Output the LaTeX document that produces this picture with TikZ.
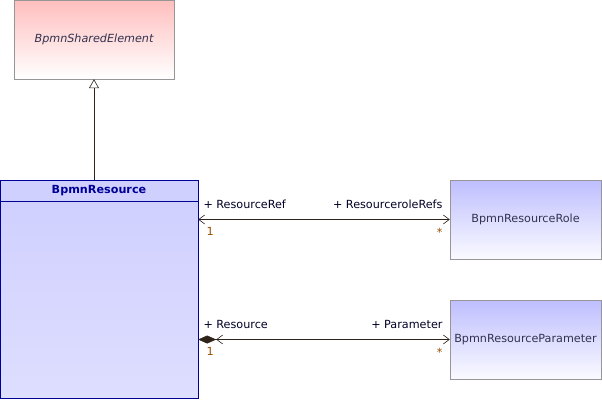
\documentclass[tikz,border=0pt]{standalone}
\usepackage{fontspec}
\setmainfont{DejaVu Sans}
\usetikzlibrary{arrows.meta,positioning}

\definecolor{umlgray}{RGB}{150,150,150}
\definecolor{umlnavy}{RGB}{0,0,150}
\definecolor{umlpink}{RGB}{255,190,190}
\definecolor{umlblue}{RGB}{190,190,255}
\definecolor{umlpale}{RGB}{250,250,255}
\definecolor{umlbody}{RGB}{208,208,255}
\definecolor{umlline}{RGB}{45,35,25}
\definecolor{umlmult}{RGB}{150,80,0}
\definecolor{umltext}{RGB}{50,50,80}

\begin{document}
\begin{tikzpicture}
[x=1pt,y=-1pt,font=\fontsize{11.2}{13}\selectfont,
  classDecorate/.style={shape=rectangle,draw=umlgray,minimum width=160pt,minimum height=79pt,
    inner sep=0pt,text=umltext,top color=umlblue,bottom color=umlpale},%
  lineDecorate/.style={draw=umlline,semithick},
  roleDecorate/.style={inner sep=1pt,text=black!85!blue},
  multDecorate/.style={inner sep=1pt,text=umlmult}]
\useasboundingbox (0,0) rectangle (602,400);
%% classes
\node (shared) at (94,39.5) [classDecorate,top color=umlpink,bottom color=white]
  {\itshape BpmnSharedElement};
\node (res) at (99,190.5) [shape=rectangle,draw=umlnavy,fill=umlbody,minimum width=198pt,
  minimum height=21pt,inner sep=0pt,text=umlnavy,font=\fontsize{11.2}{13}\selectfont\bfseries] {BpmnResource};
\node (resbody) [below=0pt of res,shape=rectangle,draw=umlnavy,minimum width=198pt,
  minimum height=197pt,inner sep=0pt,top color=umlbody,bottom color=umlbody!70!white] {};
\node (role) at (525.5,219.5) [classDecorate,minimum width=151pt] {BpmnResourceRole};
\node (param) at (525.5,339.5) [classDecorate,minimum width=151pt] {BpmnResourceParameter};
%% generalization
\draw[lineDecorate,-{Triangle[open,length=9pt,width=10pt,fill=white]}]
  (shared.south |- res.north) -- (shared.south);
%% associations
\draw[lineDecorate,{Straight Barb[length=6pt,width=9pt]}-{Straight Barb[length=6pt,width=9pt]}]
  (res.east |- role.west) -- (role.west)
  node[pos=0,above right=10pt and 4pt,roleDecorate] {+ ResourceRef}
  node[pos=0,below right=7pt and 7pt,multDecorate] {1}
  node[pos=1,above left=10pt and 6pt,roleDecorate] {+ ResourceroleRefs}
  node[pos=1,below left=7pt and 6pt,multDecorate] {*};
\draw[lineDecorate,{Diamond[length=18pt,width=8pt]Straight Barb[length=6pt,width=9pt]}-{Straight Barb[length=6pt,width=9pt]}]
  (res.east |- param.west) -- (param.west)
  node[pos=0,above right=10pt and 4pt,roleDecorate] {+ Resource}
  node[pos=0,below right=7pt and 7pt,multDecorate] {1}
  node[pos=1,above left=10pt and 6pt,roleDecorate] {+ Parameter}
  node[pos=1,below left=7pt and 6pt,multDecorate] {*};
\end{tikzpicture}
\end{document}
